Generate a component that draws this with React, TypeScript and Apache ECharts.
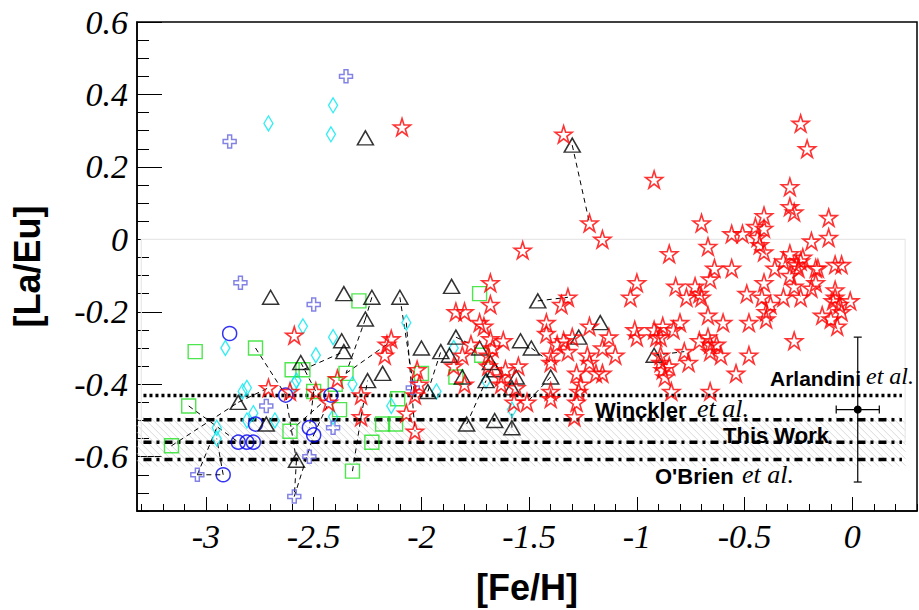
import React, { useEffect, useRef } from "react";
import * as echarts from "echarts";

// ---------- data ----------
const stars: number[][] = [
  [-2.09, 0.31], [-1.34, 0.29], [-0.92, 0.165], [-0.24, 0.32], [-0.21, 0.25], [-1.22, 0.045], [-1.16, 0.0],
  [-1.53, -0.03], [-0.70, 0.045], [-0.67, -0.02], [-0.85, -0.04], [-0.56, 0.015], [-0.51, 0.015], [-0.41, 0.065],
  [-0.45, 0.035], [-0.41, 0.03], [-0.44, 0.005], [-0.43, -0.015], [-0.41, -0.035], [-0.29, 0.145], [-0.29, 0.09],
  [-0.27, 0.075], [-0.11, 0.06], [-0.11, 0.005], [-0.19, -0.005], [-0.29, -0.04], [-0.23, -0.05],
  [-0.56, -0.08], [-0.64, -0.08], [-0.66, -0.11], [-0.36, -0.08], [-0.32, -0.06], [-0.24, -0.06], [-0.25, -0.08],
  [-0.26, -0.07], [-0.29, -0.10], [-0.17, -0.08], [-0.16, -0.08], [-0.08, -0.07], [-0.05, -0.07], [-0.17, -0.12],
  [-0.19, -0.135], [-0.27, -0.13], [-0.24, -0.16], [-0.32, -0.16], [-0.41, -0.12], [-0.42, -0.16], [-0.49, -0.15],
  [-0.38, -0.18], [-0.40, -0.20], [-0.40, -0.22], [-0.48, -0.23], [-0.60, -0.23], [-0.67, -0.21], [-0.82, -0.13],
  [-0.77, -0.16], [-0.73, -0.13], [-0.71, -0.15], [-0.70, -0.16], [-0.80, -0.23], [-0.83, -0.25], [-0.88, -0.24],
  [-0.89, -0.27], [-0.67, -0.27], [-0.71, -0.28], [-0.66, -0.29], [-0.66, -0.31], [-0.63, -0.29], [-0.61, -0.32],
  [-0.78, -0.31], [-0.76, -0.34], [-0.48, -0.32], [-0.85, -0.35], [-0.88, -0.36], [-0.87, -0.38], [-0.54, -0.37],
  [-0.27, -0.28], [-0.66, -0.42], [-0.84, -0.42], [-0.14, -0.21], [-0.10, -0.22], [-0.07, -0.24], [-0.05, -0.20],
  [-0.08, -0.14], [-0.08, -0.16], [-0.09, -0.17], [-0.06, -0.18], [-0.01, -0.17],
  [-1.03, -0.16], [-1.00, -0.12], [-1.32, -0.16], [-1.35, -0.18], [-1.42, -0.23], [-1.42, -0.26], [-1.22, -0.24],
  [-1.13, -0.27], [-1.16, -0.30], [-1.10, -0.32], [-1.23, -0.32], [-1.32, -0.31], [-1.37, -0.29], [-1.34, -0.28],
  [-1.30, -0.27], [-1.40, -0.32], [-1.40, -0.34], [-1.28, -0.37], [-1.22, -0.34], [-1.19, -0.37], [-1.16, -0.37],
  [-1.55, -0.35], [-1.61, -0.36], [-1.40, -0.42], [-1.40, -0.44], [-1.27, -0.42], [-1.26, -0.40], [-1.28, -0.45],
  [-1.29, -0.49], [-1.51, -0.45], [-1.01, -0.25], [-1.00, -0.27], [-0.92, -0.25], [-0.91, -0.27], [-0.89, -0.34],
  [-0.89, -0.32], [-1.62, -0.28], [-1.63, -0.38], [-1.56, -0.41], [-1.57, -0.45],
  [-1.68, -0.12], [-1.68, -0.18], [-1.84, -0.20], [-1.80, -0.20], [-1.73, -0.23], [-1.71, -0.24], [-1.68, -0.275],
  [-1.77, -0.29], [-1.67, -0.30], [-1.81, -0.32], [-1.69, -0.32], [-1.69, -0.35], [-1.85, -0.35], [-1.80, -0.40],
  [-1.63, -0.40], [-2.14, -0.275], [-2.16, -0.29], [-2.17, -0.32], [-2.02, -0.36], [-2.01, -0.40], [-2.03, -0.43],
  [-2.07, -0.48], [-2.03, -0.53], [-2.28, -0.43], [-2.28, -0.49], [-2.39, -0.385],
  [-2.59, -0.265], [-2.71, -0.41], [-2.61, -0.42], [-2.49, -0.42], [-2.43, -0.45],
];

const triangles: number[][] = [
  [-2.26, 0.28], [-1.30, 0.26], [-2.70, -0.16], [-2.36, -0.15], [-2.23, -0.16], [-2.10, -0.16], [-2.26, -0.22],
  [-2.37, -0.28], [-2.36, -0.31], [-2.56, -0.34], [-2.18, -0.37], [-2.25, -0.39], [-2.85, -0.45], [-2.72, -0.51],
  [-2.58, -0.61], [-2.00, -0.30], [-1.91, -0.31], [-1.87, -0.32], [-1.97, -0.42], [-1.86, -0.13], [-1.84, -0.27],
  [-1.81, -0.38], [-1.79, -0.51], [-1.70, -0.39], [-1.66, -0.50], [-1.58, -0.52], [-1.56, -0.38], [-1.66, -0.36],
  [-1.73, -0.30], [-1.54, -0.28], [-1.68, -0.34], [-1.46, -0.17], [-1.49, -0.30], [-1.27, -0.27], [-1.17, -0.23],
  [-1.40, -0.38], [-1.58, -0.41], [-0.92, -0.32],
];

const squares: number[][] = [
  [-3.05, -0.31], [-2.77, -0.30], [-2.60, -0.36], [-2.55, -0.36], [-3.08, -0.46], [-3.16, -0.57], [-2.50, -0.42],
  [-2.40, -0.40], [-2.35, -0.37], [-2.38, -0.47], [-2.61, -0.53], [-2.29, -0.17], [-2.23, -0.56], [-2.32, -0.64],
  [-2.18, -0.51], [-2.12, -0.51], [-2.11, -0.44], [-2.00, -0.37], [-1.84, -0.38], [-1.73, -0.15], [-1.72, -0.32],
];

const circles: number[][] = [
  [-2.89, -0.26], [-2.63, -0.43], [-2.42, -0.43], [-2.77, -0.51], [-2.85, -0.56], [-2.81, -0.56], [-2.78, -0.56],
  [-2.52, -0.52], [-2.50, -0.54], [-2.92, -0.65],
];

const diamonds: number[][] = [
  [-2.71, 0.32], [-2.41, 0.37], [-2.42, 0.29], [-2.91, -0.30], [-2.55, -0.24], [-2.41, -0.27], [-2.49, -0.32],
  [-2.83, -0.42], [-2.81, -0.41], [-2.95, -0.52], [-2.95, -0.55], [-2.81, -0.50], [-2.78, -0.48], [-2.68, -0.50],
  [-2.58, -0.39], [-2.59, -0.40], [-2.41, -0.49], [-2.32, -0.40], [-2.14, -0.46], [-2.07, -0.23], [-1.93, -0.42],
  [-1.85, -0.30], [-1.70, -0.39], [-1.58, -0.47],
];

const crosses: number[][] = [
  [-2.35, 0.45], [-2.89, 0.27], [-2.84, -0.12], [-2.50, -0.18], [-2.72, -0.46], [-3.04, -0.65], [-2.52, -0.60],
  [-2.59, -0.71], [-2.41, -0.52], [-2.04, -0.41],
];

// dashed links between measurements of the same star: [x1, y1, x2, y2]
const links: number[][] = [
  [-1.30, 0.26, -1.22, 0.045], [-3.08, -0.46, -2.85, -0.56], [-3.16, -0.57, -2.85, -0.45], [-2.85, -0.45, -2.71, -0.41],
  [-3.04, -0.65, -2.95, -0.52], [-2.92, -0.65, -2.95, -0.55], [-3.04, -0.65, -2.92, -0.65], [-2.77, -0.30, -2.63, -0.43],
  [-2.63, -0.43, -2.58, -0.61], [-2.58, -0.61, -2.59, -0.71], [-2.59, -0.71, -2.50, -0.54], [-2.55, -0.36, -2.36, -0.31],
  [-2.61, -0.53, -2.42, -0.43], [-2.50, -0.54, -2.43, -0.45], [-2.50, -0.42, -2.52, -0.52], [-2.35, -0.37, -2.16, -0.29],
  [-2.26, -0.22, -2.35, -0.37], [-2.23, -0.16, -2.26, -0.22], [-2.10, -0.16, -2.03, -0.43], [-2.07, -0.23, -2.03, -0.53],
  [-2.32, -0.64, -2.28, -0.49], [-2.28, -0.49, -2.25, -0.39], [-1.97, -0.42, -1.91, -0.31], [-1.79, -0.51, -1.70, -0.39],
  [-1.84, -0.27, -1.77, -0.29], [-1.58, -0.52, -1.58, -0.47], [-1.46, -0.17, -1.32, -0.16], [-1.49, -0.30, -1.40, -0.34],
  [-1.40, -0.38, -1.51, -0.45], [-0.92, -0.32, -0.78, -0.31], [-2.56, -0.34, -2.49, -0.42],
];

// reference lines: [y, xStart, xEnd]
const refNames = ["Arlandini", "Winckler", "This Work", "O'Brien"];
const refLevels: number[][] = [
  [-0.431, -3.29, 0.23],
  [-0.498, -3.29, 0.23],
  [-0.560, -3.29, 0.23],
  [-0.608, -3.29, 0.23],
];
// hatched band: [x0, x1, yBottom, yTop]
const hatchBand: number[][] = [[-3.32, 0.247, -0.627, -0.49]];
// faint box: [x0, x1, yBottom, yTop]
const faintBox: number[][] = [[-3.30, 0.245, -0.56, 0.0]];
// typical error: [x, y, xErr, yErr]
const errorBar: number[][] = [[0.025, -0.47, 0.1, 0.2]];

const xMajor = [-3, -2.5, -2, -1.5, -1, -0.5, 0];
const yMajor = [-0.6, -0.4, -0.2, 0, 0.2, 0.4, 0.6];
const xRange = [-3.32, 0.3];
const yRange = [-0.75, 0.6];

const xMinor: number[] = [];
for (let i = -33; i <= 3; i++) xMinor.push(i / 10);
const yMinor: number[] = [];
for (let i = -15; i <= 12; i++) yMinor.push(i / 20);

const STAR =
  "path://M50 0 L61.2 34.5 L97.6 34.5 L68.2 55.9 L79.4 90.5 L50 69.1 L20.6 90.5 L31.8 55.9 L2.4 34.5 L38.8 34.5 Z";
const CROSS = "path://M35 0 H65 V35 H100 V65 H65 V100 H35 V65 H0 V35 H35 Z";

const SERIF = '"Liberation Serif", "Times New Roman", serif';
const SANS = '"Liberation Sans", Arial, sans-serif';

function scatter(data: number[][], symbol: string, size: any, color: string, width: number) {
  return {
    type: "scatter",
    data,
    symbol,
    symbolSize: size,
    z: 5,
    silent: true,
    itemStyle: { color: "rgba(0,0,0,0)", borderColor: color, borderWidth: width },
  };
}

export default function App() {
  const ref = useRef<HTMLDivElement>(null);
  useEffect(() => {
    if (!ref.current) return;
    const chart = echarts.init(ref.current, null, { renderer: "svg" });
    const dashes = [[3, 3], [8, 5, 3, 5], [8, 5, 3, 5], [8, 5, 3, 5]];
    const option: any = {
      animation: false,
      backgroundColor: "#fff",
      grid: { left: 137, right: 2, top: 22, bottom: 98, show: true, borderColor: "#000", borderWidth: 1.5, backgroundColor: "transparent" },
      xAxis: [
        {
          type: "value", min: xRange[0], max: xRange[1], position: "bottom",
          axisLine: { show: true, onZero: false, lineStyle: { color: "#000", width: 1.5 } },
          axisTick: { show: true, inside: true, length: 14, customValues: xMajor, lineStyle: { color: "#000", width: 1 } },
          axisLabel: {
            customValues: xMajor, margin: 8, color: "#000", fontFamily: SERIF, fontStyle: "italic", fontSize: 34,
            formatter: (v: number) => String(v),
          },
          splitLine: { show: false },
          name: "[Fe/H]", nameLocation: "middle", nameGap: 58,
          nameTextStyle: { fontFamily: SANS, fontWeight: "bold", fontSize: 36, color: "#000" },
        },
        {
          type: "value", min: xRange[0], max: xRange[1], position: "bottom",
          axisLine: { show: false, onZero: false },
          axisTick: { show: true, inside: true, length: 7, customValues: xMinor, lineStyle: { color: "#000", width: 1 } },
          axisLabel: { show: false },
          splitLine: { show: false },
        },
      ],
      yAxis: [
        {
          type: "value", min: yRange[0], max: yRange[1], position: "left",
          axisLine: { show: true, onZero: false, lineStyle: { color: "#000", width: 1.5 } },
          axisTick: { show: true, inside: true, length: 25, customValues: yMajor, lineStyle: { color: "#000", width: 1 } },
          axisLabel: {
            customValues: yMajor, margin: 9, color: "#000", fontFamily: SERIF, fontStyle: "italic", fontSize: 34,
            formatter: (v: number) => (Math.abs(v) < 1e-9 ? "0" : v.toFixed(1)),
          },
          splitLine: { show: false },
          name: "[La/Eu]", nameLocation: "middle", nameGap: 92, nameRotate: 90,
          nameTextStyle: { fontFamily: SANS, fontWeight: "bold", fontSize: 36, color: "#000" },
        },
        {
          type: "value", min: yRange[0], max: yRange[1], position: "left",
          axisLine: { show: false, onZero: false },
          axisTick: { show: true, inside: true, length: 12, customValues: yMinor, lineStyle: { color: "#000", width: 1 } },
          axisLabel: { show: false },
          splitLine: { show: false },
        },
      ],
      series: [
        {
          type: "custom", data: hatchBand, z: 1, silent: true, clip: false,
          renderItem: (_p: any, api: any) => {
            const tl = api.coord([api.value(0), api.value(3)]);
            const br = api.coord([api.value(1), api.value(2)]);
            const L = tl[0], T = tl[1], R = br[0], B = br[1];
            const children: any[] = [];
            for (let c = T - R; c <= B - L; c += 7) {
              const xs = Math.max(L, T - c), xe = Math.min(R, B - c);
              if (xe > xs) children.push({ type: "line", shape: { x1: xs, y1: xs + c, x2: xe, y2: xe + c }, style: { stroke: "#cfcfcf", lineWidth: 0.8 } });
            }
            return { type: "group", children };
          },
        },
        {
          type: "custom", data: faintBox, z: 1, silent: true, clip: false,
          renderItem: (_p: any, api: any) => {
            const tl = api.coord([api.value(0), api.value(3)]);
            const br = api.coord([api.value(1), api.value(2)]);
            return { type: "rect", shape: { x: tl[0], y: tl[1], width: br[0] - tl[0], height: br[1] - tl[1] }, style: { fill: "none", stroke: "#e8e8e8", lineWidth: 1.2 } };
          },
        },
        {
          type: "custom", data: refLevels, z: 2, silent: true, clip: false,
          renderItem: (p: any, api: any) => {
            const a = api.coord([api.value(1), api.value(0)]);
            const b = api.coord([api.value(2), api.value(0)]);
            return { type: "line", shape: { x1: a[0], y1: a[1], x2: b[0], y2: b[1] }, style: { stroke: "#000", lineWidth: 3.5, lineDash: dashes[p.dataIndex] } };
          },
        },
        {
          type: "custom", data: links, z: 3, silent: true, clip: false,
          renderItem: (_p: any, api: any) => {
            const a = api.coord([api.value(0), api.value(1)]);
            const b = api.coord([api.value(2), api.value(3)]);
            return { type: "line", shape: { x1: a[0], y1: a[1], x2: b[0], y2: b[1] }, style: { stroke: "#000", lineWidth: 1, lineDash: [5, 4] } };
          },
        },
        scatter(squares, "rect", 14, "#22e022", 1.4),
        scatter(diamonds, "diamond", [9, 15], "#00e8f0", 1.4),
        scatter(circles, "circle", 14, "#0000f0", 1.5),
        scatter(crosses, CROSS, 13, "#6464e0", 1.5),
        scatter(triangles, "triangle", [16, 14], "#000000", 1.5),
        scatter(stars, STAR, 17, "#ff0000", 1.6),
        {
          type: "custom", data: errorBar, z: 6, silent: true, clip: false,
          renderItem: (_p: any, api: any) => {
            const x = api.value(0), y = api.value(1), ex = api.value(2), ey = api.value(3);
            const c = api.coord([x, y]);
            const l = api.coord([x - ex, y]);
            const r = api.coord([x + ex, y]);
            const t = api.coord([x, y + ey]);
            const b = api.coord([x, y - ey]);
            const st = { stroke: "#000", lineWidth: 1.2 };
            return {
              type: "group",
              children: [
                { type: "line", shape: { x1: l[0], y1: l[1], x2: r[0], y2: r[1] }, style: st },
                { type: "line", shape: { x1: t[0], y1: t[1], x2: b[0], y2: b[1] }, style: st },
                { type: "line", shape: { x1: l[0], y1: l[1] - 4, x2: l[0], y2: l[1] + 4 }, style: st },
                { type: "line", shape: { x1: r[0], y1: r[1] - 4, x2: r[0], y2: r[1] + 4 }, style: st },
                { type: "line", shape: { x1: t[0] - 4, y1: t[1], x2: t[0] + 4, y2: t[1] }, style: st },
                { type: "line", shape: { x1: b[0] - 4, y1: b[1], x2: b[0] + 4, y2: b[1] }, style: st },
                { type: "circle", shape: { cx: c[0], cy: c[1], r: 4 }, style: { fill: "#000" } },
              ],
            };
          },
        },
      ],
      graphic: [
        { type: "text", x: 770, y: 378, z: 10, style: { text: refNames[0], font: `bold 21px ${SANS}`, fill: "#000", textVerticalAlign: "middle" } },
        { type: "text", x: 866, y: 376, z: 10, style: { text: "et al.", font: `italic 24px ${SERIF}`, fill: "#000", textVerticalAlign: "middle" } },
        { type: "text", x: 595, y: 410, z: 10, style: { text: refNames[1], font: `bold 22px ${SANS}`, fill: "#000", textVerticalAlign: "middle" } },
        { type: "text", x: 697, y: 408, z: 10, style: { text: "et al.", font: `italic 26px ${SERIF}`, fill: "#000", textVerticalAlign: "middle" } },
        { type: "text", x: 723, y: 435, z: 10, style: { text: refNames[2], font: `bold 22px ${SANS}`, fill: "#000", textVerticalAlign: "middle" } },
        { type: "text", x: 655, y: 476, z: 10, style: { text: refNames[3], font: `bold 22px ${SANS}`, fill: "#000", textVerticalAlign: "middle" } },
        { type: "text", x: 742, y: 474, z: 10, style: { text: "et al.", font: `italic 26px ${SERIF}`, fill: "#000", textVerticalAlign: "middle" } },
      ],
    };
    chart.setOption(option);
    return () => chart.dispose();
  }, []);
  return <div ref={ref} style={{ position: "absolute", left: 0, top: 0, width: 919, height: 610 }} />;
}
